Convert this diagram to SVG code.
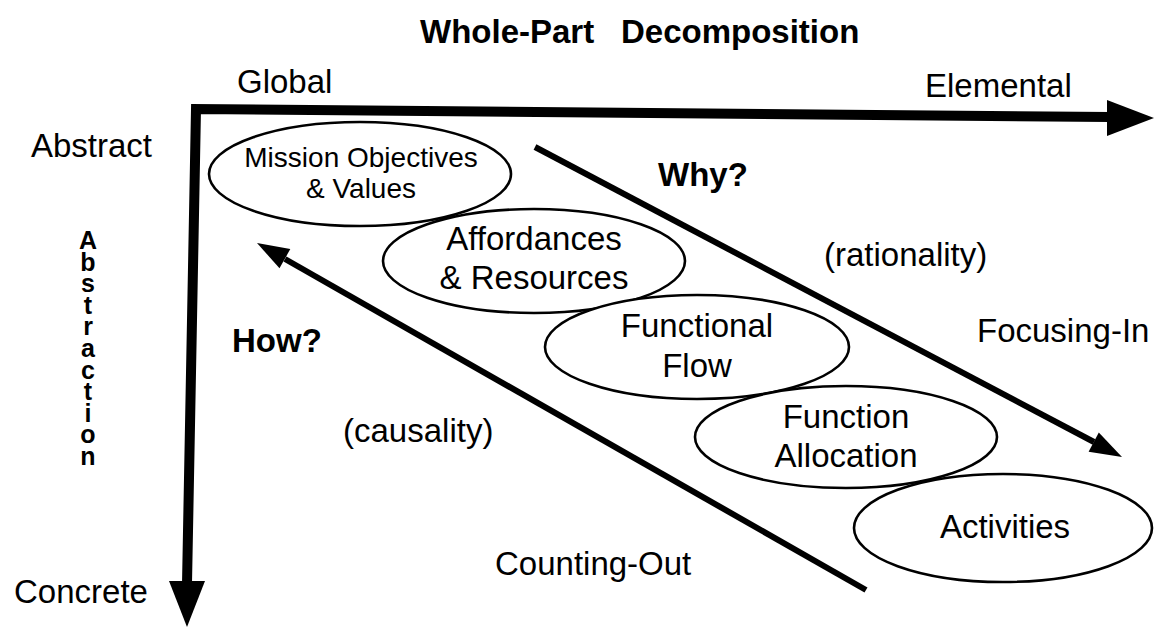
<svg xmlns="http://www.w3.org/2000/svg" width="1154" height="627" viewBox="0 0 1154 627">
<style>
text{font-family:"Liberation Sans",Arial,Helvetica,sans-serif;fill:#000}
.lbl{font-size:33px}
.b{font-weight:bold}
.nd{font-size:33px;text-anchor:middle}
.ms{font-size:28px;text-anchor:middle}
.vert{font-size:25px;font-weight:bold;writing-mode:vertical-rl;text-orientation:upright;letter-spacing:-6.4px}
.ell{fill:#fff;stroke:#000;stroke-width:2.6}
.axis{fill:none;stroke:#000;stroke-width:10;stroke-linejoin:miter}
.diag{fill:none;stroke:#000;stroke-width:6}
</style>
<rect width="1154" height="627" fill="#fff"/>
<text class="lbl b" font-size="32" x="420" y="43"><tspan>Whole-Part</tspan><tspan x="621">Decomposition</tspan></text>
<text class="lbl" x="237" y="93">Global</text>
<text class="lbl" x="925" y="97">Elemental</text>
<text class="lbl" x="31" y="157">Abstract</text>
<text class="lbl" x="14" y="603">Concrete</text>
<text class="vert" x="88" y="226">Abstraction</text>
<text class="lbl b" x="658" y="186">Why?</text>
<text class="lbl" x="824" y="266">(rationality)</text>
<text class="lbl" x="977" y="342">Focusing-In</text>
<text class="lbl b" x="232" y="352">How?</text>
<text class="lbl" x="343" y="442">(causality)</text>
<text class="lbl" x="495" y="575">Counting-Out</text>
<g id="connectors">
<path class="axis" d="M1110,117 L196,109 L187,584"/>
<polygon points="1107,100 1154,118 1107,136"/>
<polygon points="169,581 205,581 187,627"/>
<line class="diag" x1="535" y1="147" x2="1094" y2="442"/>
<polygon points="1122,457 1088.6,451.8 1098.8,432.4"/>
<line class="diag" x1="866" y1="590" x2="285" y2="259"/>
<polygon points="257,243 279.5,268.3 290.3,249.1"/>
</g>
<g id="n1"><ellipse class="ell" cx="360" cy="174" rx="151" ry="52"/>
<text class="ms" x="361" y="167">Mission Objectives</text><text class="ms" x="361" y="198">&amp; Values</text></g>
<g id="n2"><ellipse class="ell" cx="534" cy="261" rx="151" ry="52"/>
<text class="nd" x="534" y="250">Affordances</text><text class="nd" x="534" y="289">&amp; Resources</text></g>
<g id="n3"><ellipse class="ell" cx="697" cy="347" rx="152" ry="52"/>
<text class="nd" x="697" y="337">Functional</text><text class="nd" x="697" y="377">Flow</text></g>
<g id="n4"><ellipse class="ell" cx="846" cy="437" rx="151" ry="51"/>
<text class="nd" x="846" y="428">Function</text><text class="nd" x="846" y="467">Allocation</text></g>
<g id="n5"><ellipse class="ell" cx="1003" cy="528" rx="149" ry="54"/>
<text class="nd" x="1005" y="538">Activities</text></g>
</svg>
